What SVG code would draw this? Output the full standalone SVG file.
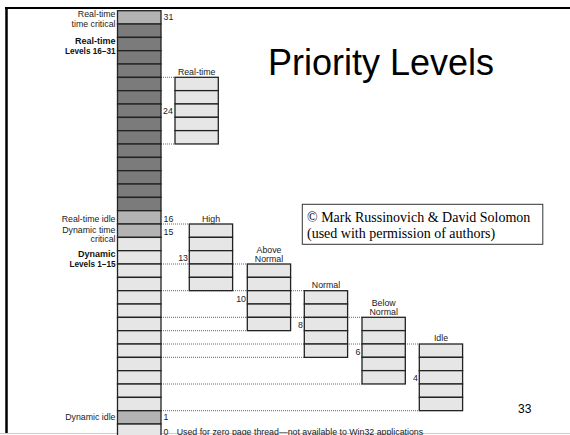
<svg xmlns="http://www.w3.org/2000/svg" width="570" height="435" viewBox="0 0 570 435">
<style>
.t{font-family:"Liberation Sans",Arial,sans-serif;font-size:8.8px;fill:#222}
.b{font-family:"Liberation Sans",Arial,sans-serif;font-weight:bold;fill:#111}
.e{text-anchor:end}
.m{text-anchor:middle}
.r{stroke:#222;stroke-width:1.3}
.lt{fill:#e6e6e6}
.md{fill:#b3b3b3}
.dk{fill:#7b7b7b}
.dot{stroke:#555;stroke-width:0.9;stroke-dasharray:1 1;fill:none}
</style>
<rect width="570" height="435" fill="#fff"/>
<g id="frame">
<line x1="5" y1="8" x2="570" y2="8" stroke="#000" stroke-width="2"/>
<line x1="6.5" y1="7" x2="6.5" y2="434" stroke="#000" stroke-width="2.5"/>
<line x1="0" y1="433.5" x2="570" y2="433.5" stroke="#ccc" stroke-width="1"/>
</g>
<g id="title"><text x="268" y="75" style="font-family:'Liberation Sans',Arial,sans-serif;font-size:36px;fill:#000">Priority Levels</text></g>
<g id="connectors">
<line class="dot" x1="161" y1="77.3" x2="175" y2="77.3"/>
<line class="dot" x1="161" y1="144" x2="175" y2="144"/>
<line class="dot" x1="161" y1="224" x2="189.3" y2="224"/>
<line class="dot" x1="161" y1="290.7" x2="304.3" y2="290.7"/>
<line class="dot" x1="161" y1="264" x2="247.3" y2="264"/>
<line class="dot" x1="161" y1="330.7" x2="247.3" y2="330.7"/>
<line class="dot" x1="161" y1="357.3" x2="304.3" y2="357.3"/>
<line class="dot" x1="161" y1="317.3" x2="362" y2="317.3"/>
<line class="dot" x1="161" y1="384" x2="362" y2="384"/>
<line class="dot" x1="161" y1="344" x2="419.3" y2="344"/>
<line class="dot" x1="161" y1="410.7" x2="419.3" y2="410.7"/>
</g>
<g id="column">
<rect class="r md" x="117.5" y="10.7" width="43.5" height="13.33"/>
<rect class="r dk" x="117.5" y="24.03" width="43.5" height="13.33"/>
<rect class="r dk" x="117.5" y="37.37" width="43.5" height="13.33"/>
<rect class="r dk" x="117.5" y="50.7" width="43.5" height="13.33"/>
<rect class="r dk" x="117.5" y="64.03" width="43.5" height="13.33"/>
<rect class="r dk" x="117.5" y="77.37" width="43.5" height="13.33"/>
<rect class="r dk" x="117.5" y="90.7" width="43.5" height="13.33"/>
<rect class="r dk" x="117.5" y="104.03" width="43.5" height="13.33"/>
<rect class="r dk" x="117.5" y="117.37" width="43.5" height="13.33"/>
<rect class="r dk" x="117.5" y="130.7" width="43.5" height="13.33"/>
<rect class="r dk" x="117.5" y="144.03" width="43.5" height="13.33"/>
<rect class="r dk" x="117.5" y="157.37" width="43.5" height="13.33"/>
<rect class="r dk" x="117.5" y="170.7" width="43.5" height="13.33"/>
<rect class="r dk" x="117.5" y="184.03" width="43.5" height="13.33"/>
<rect class="r dk" x="117.5" y="197.37" width="43.5" height="13.33"/>
<rect class="r md" x="117.5" y="210.7" width="43.5" height="13.33"/>
<rect class="r md" x="117.5" y="224.03" width="43.5" height="13.33"/>
<rect class="r lt" x="117.5" y="237.37" width="43.5" height="13.33"/>
<rect class="r lt" x="117.5" y="250.7" width="43.5" height="13.33"/>
<rect class="r lt" x="117.5" y="264.03" width="43.5" height="13.33"/>
<rect class="r lt" x="117.5" y="277.37" width="43.5" height="13.33"/>
<rect class="r lt" x="117.5" y="290.7" width="43.5" height="13.33"/>
<rect class="r lt" x="117.5" y="304.03" width="43.5" height="13.33"/>
<rect class="r lt" x="117.5" y="317.37" width="43.5" height="13.33"/>
<rect class="r lt" x="117.5" y="330.7" width="43.5" height="13.33"/>
<rect class="r lt" x="117.5" y="344.03" width="43.5" height="13.33"/>
<rect class="r lt" x="117.5" y="357.37" width="43.5" height="13.33"/>
<rect class="r lt" x="117.5" y="370.7" width="43.5" height="13.33"/>
<rect class="r lt" x="117.5" y="384.03" width="43.5" height="13.33"/>
<rect class="r lt" x="117.5" y="397.37" width="43.5" height="13.33"/>
<rect class="r md" x="117.5" y="410.7" width="43.5" height="13.33"/>
<rect class="r lt" x="117.5" y="424.03" width="43.5" height="13.33"/>
<text class="t" x="163.5" y="20">31</text>
<text class="t" x="163.5" y="221.5">16</text>
<text class="t" x="163.5" y="234.5">15</text>
<text class="t" x="163.5" y="420.3">1</text>
<text class="t" x="163.5" y="434.5">0</text>
<text class="t" x="176.7" y="434.5">Used for zero page thread—not available to Win32 applications</text>
<text class="t e" x="115.5" y="17.2">Real-time</text>
<text class="t e" x="115.5" y="26.5">time critical</text>
<text class="b e" x="115.5" y="43.5" font-size="9">Real-time</text>
<text class="b e" x="115.5" y="53.5" font-size="8.2">Levels 16–31</text>
<text class="t e" x="115.5" y="222">Real-time idle</text>
<text class="t e" x="115.5" y="232.5">Dynamic time</text>
<text class="t e" x="115.5" y="241.5">critical</text>
<text class="b e" x="115.5" y="256.5" font-size="9">Dynamic</text>
<text class="b e" x="115.5" y="266.5" font-size="8.2">Levels 1–15</text>
<text class="t e" x="115.5" y="420.3">Dynamic idle</text>
</g>
<defs>
<g id="box5">
<rect class="r lt" x="0" y="0" width="43.3" height="13.33"/>
<rect class="r lt" x="0" y="13.33" width="43.3" height="13.33"/>
<rect class="r lt" x="0" y="26.67" width="43.3" height="13.33"/>
<rect class="r lt" x="0" y="40" width="43.3" height="13.33"/>
<rect class="r lt" x="0" y="53.33" width="43.3" height="13.33"/>
</g>
</defs>
<g id="realtime">
<use href="#box5" x="175" y="77.3"/>
<text class="t m" x="196.7" y="75">Real-time</text>
<text class="t" x="163" y="114">24</text>
</g>
<g id="high">
<use href="#box5" x="189.3" y="224"/>
<text class="t m" x="211" y="221.5">High</text>
<text class="t e" x="188" y="261">13</text>
</g>
<g id="abovenormal">
<use href="#box5" x="247.3" y="264"/>
<text class="t m" x="269" y="252.5">Above</text>
<text class="t m" x="269" y="261.5">Normal</text>
<text class="t e" x="246" y="302">10</text>
</g>
<g id="normal">
<use href="#box5" x="304.3" y="290.7"/>
<text class="t m" x="326" y="288">Normal</text>
<text class="t e" x="303" y="328">8</text>
</g>
<g id="belownormal">
<use href="#box5" x="362" y="317.3"/>
<text class="t m" x="383.7" y="306">Below</text>
<text class="t m" x="383.7" y="315">Normal</text>
<text class="t e" x="360.5" y="355">6</text>
</g>
<g id="idle">
<use href="#box5" x="419.3" y="344"/>
<text class="t m" x="441" y="341">Idle</text>
<text class="t e" x="418" y="381">4</text>
</g>
<g id="copyright">
<rect x="302.3" y="204.3" width="240.5" height="40" fill="#fff" stroke="#333" stroke-width="1"/>
<text x="307" y="221.5" style="font-family:'Liberation Serif','Times New Roman',serif;font-size:14px;fill:#000">© Mark Russinovich &amp; David Solomon</text>
<text x="307" y="238" style="font-family:'Liberation Serif','Times New Roman',serif;font-size:14px;fill:#000">(used with permission of authors)</text>
</g>
<g id="pagenum"><text x="518" y="413" style="font-family:'Liberation Sans',Arial,sans-serif;font-size:12px;fill:#000">33</text></g>
</svg>
